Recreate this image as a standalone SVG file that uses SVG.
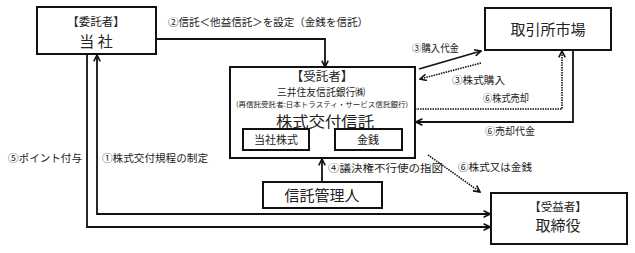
<svg xmlns="http://www.w3.org/2000/svg" width="635" height="253" viewBox="0 0 635 253">
<defs>
<style>
.box{fill:#fff;stroke:#111;stroke-width:2}
.ln{fill:none;stroke:#111;stroke-width:1.8}
.dt{fill:none;stroke:#111;stroke-width:1.6;stroke-dasharray:1.5 1}
text{font-family:"Noto Sans CJK JP","Noto Sans",sans-serif;fill:#222}
.c{text-anchor:middle}
.s{font-size:10.5px}
</style>
<marker id="ah" viewBox="0 0 10 10" refX="9" refY="5" markerWidth="8" markerHeight="8" markerUnits="userSpaceOnUse" orient="auto-start-reverse">
<path d="M1,1 L9,5 L1,9" fill="none" stroke="#111" stroke-width="2"/>
</marker>
</defs>
<g id="connectors">
<polyline class="ln" points="156,39 325,39 325,67" marker-end="url(#ah)"/>
<line class="ln" x1="419" y1="69" x2="481" y2="51" marker-end="url(#ah)"/>
<line class="dt" x1="481" y1="63" x2="420" y2="79" marker-end="url(#ah)"/>
<polyline class="dt" points="415,109 562,109 562,51" marker-end="url(#ah)"/>
<polyline class="ln" points="573,50 573,122 416,122" marker-end="url(#ah)"/>
<line class="ln" x1="322" y1="182" x2="322" y2="159" marker-end="url(#ah)"/>
<line class="dt" x1="428" y1="155" x2="480" y2="192" marker-end="url(#ah)"/>
<polyline class="ln" points="97,55 97,214 490,214" marker-start="url(#ah)" marker-end="url(#ah)"/>
<polyline class="ln" points="87,54 87,227 490,227" marker-end="url(#ah)"/>
<text class="s" x="168" y="26" textLength="200" lengthAdjust="spacingAndGlyphs">②信託＜他益信託＞を設定（金銭を信託）</text>
<text class="s" x="412" y="52" textLength="47" lengthAdjust="spacingAndGlyphs">③購入代金</text>
<text class="s" x="452" y="84" textLength="53" lengthAdjust="spacingAndGlyphs">③株式購入</text>
<text class="s" x="483" y="102" textLength="46" lengthAdjust="spacingAndGlyphs">⑥株式売却</text>
<text class="s" x="485" y="135" textLength="50" lengthAdjust="spacingAndGlyphs">⑥売却代金</text>
<text class="s" x="328" y="172" textLength="115" lengthAdjust="spacingAndGlyphs">④議決権不行使の指図</text>
<text class="s" x="458" y="171" textLength="74" lengthAdjust="spacingAndGlyphs">⑥株式又は金銭</text>
<text class="s" x="8" y="162" textLength="74" lengthAdjust="spacingAndGlyphs">⑤ポイント付与</text>
<text class="s" x="102" y="162" textLength="106" lengthAdjust="spacingAndGlyphs">①株式交付規程の制定</text>
</g>
<g id="itakusha">
<rect class="box" x="37" y="7" width="119" height="47"/>
<text class="c" x="96" y="26" font-size="11.5">【委託者】</text>
<text class="c" x="96" y="47" font-size="15">当 社</text>
</g>
<g id="torihikijo">
<rect class="box" x="485" y="8" width="126" height="42"/>
<text class="c" x="548" y="35" font-size="15">取引所市場</text>
</g>
<g id="jutakusha">
<rect class="box" x="230" y="67" width="185" height="91"/>
<text class="c" x="322" y="81" font-size="12.5">【受託者】</text>
<text class="c" x="321" y="96" font-size="10" textLength="88" lengthAdjust="spacingAndGlyphs">三井住友信託銀行㈱</text>
<text class="c" x="322" y="107" font-size="7" textLength="172" lengthAdjust="spacingAndGlyphs">(再信託受託者:日本トラスティ・サービス信託銀行)</text>
<text class="c" x="325" y="127" font-size="14.5" textLength="98" lengthAdjust="spacingAndGlyphs">株式交付信託</text>
</g>
<g id="tousha-kabushiki">
<rect class="box" x="243" y="129" width="66" height="21"/>
<text class="c" x="276" y="144" font-size="11">当社株式</text>
</g>
<g id="kinsen">
<rect class="box" x="335" y="129" width="67" height="21"/>
<text class="c" x="368" y="144" font-size="11">金銭</text>
</g>
<g id="shintaku-kanrinin">
<rect class="box" x="263" y="182" width="119" height="26"/>
<text class="c" x="322" y="201" font-size="15">信託管理人</text>
</g>
<g id="juekisha">
<rect class="box" x="491" y="193" width="136" height="51"/>
<text class="c" x="558" y="211" font-size="11.5">【受益者】</text>
<text class="c" x="558" y="231" font-size="15">取締役</text>
</g>
</svg>
